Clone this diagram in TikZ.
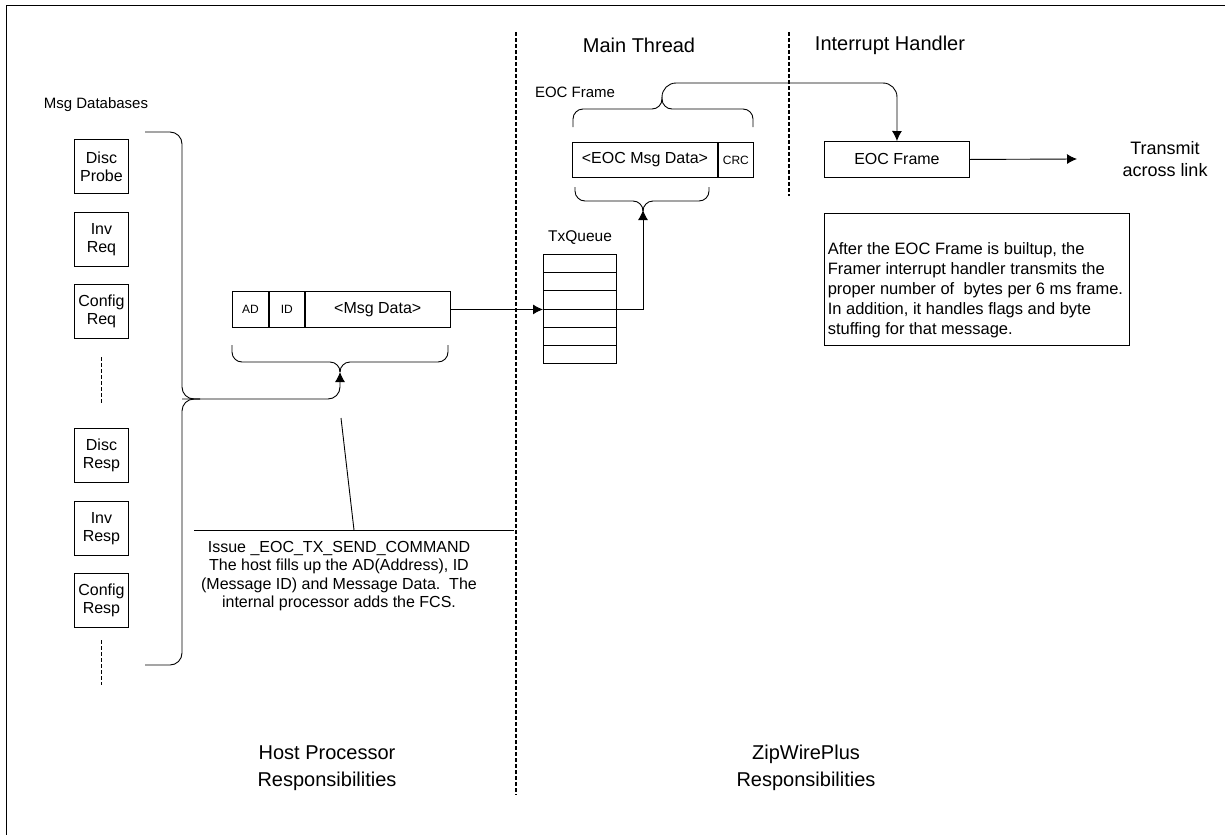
\documentclass[tikz,border=0pt]{standalone}
\usepackage{fontspec}
\setmainfont{Liberation Sans}
\usetikzlibrary{arrows.meta}

\tikzset{
  flow/.style={-{Latex[length=10pt,width=10pt]}},
  brace/.style={rounded corners=10pt},
  divider/.style={dash pattern=on 4pt off 2pt, line width=1.1pt},
  head/.style={font=\fontsize{20}{27}\selectfont, align=center},
  body/.style={font=\fontsize{16}{18.5}\selectfont, align=center},
  dbbox/.style={draw, minimum width=54pt, minimum height=54pt, inner sep=0pt,
    align=center, font=\fontsize{16}{18}\selectfont},
  cell/.style={draw, minimum height=36pt, inner sep=0pt, font=\fontsize{16}{18}\selectfont},
  small/.style={font=\fontsize{12}{14}\selectfont},
  qcell/.style={draw, minimum width=73pt, minimum height=18.2pt, inner sep=0pt},
}

\begin{document}
\begin{tikzpicture}[x=1pt, y=-1pt, line width=0.9pt]
    \useasboundingbox (0,0) rectangle (1225,835);
    \draw (1225,5) -- (6,5) -- (6,835);

    % lanes
    \draw[divider] (516,32) -- (516,795);
    \draw[divider] (789,32) -- (789,196);
    \node[head] (mainth) at (639,45) {Main Thread};
    \node[head] (irqh) at (890,45) {Interrupt Handler};
    \node[head] (hostresp) at (327,768) {Host Processor\\Responsibilities};
    \node[head] (zwpresp) at (806,768) {ZipWirePlus\\Responsibilities};

    % message databases
    \node[font=\fontsize{15}{18}\selectfont] (msgdb) at (96,105) {Msg Databases};
    \node[dbbox, anchor=north west] (discprobe) at (74,139) {Disc\\Probe};
    \node[dbbox, anchor=north west] (invreq) at (74,212) {Inv\\Req};
    \node[dbbox, anchor=north west] (cfgreq) at (74,284) {Config\\Req};
    \draw[divider, line width=0.9pt] (101,357) -- (101,404);
    \node[dbbox, anchor=north west] (discresp) at (74,428) {Disc\\Resp};
    \node[dbbox, anchor=north west] (invresp) at (74,501) {Inv\\Resp};
    \node[dbbox, anchor=north west] (cfgresp) at (74,573) {Config\\Resp};
    \draw[divider, line width=0.9pt] (101,640) -- (101,685);

    % brace over all databases
    \coordinate (dbtip) at (182,399);
    \draw[rounded corners=12pt] (145,132) -- (182,132) -- (dbtip) -- (200,399);
    \draw[rounded corners=12pt] (200,399) -- (dbtip) -- (182,665) -- (145,665);

    % host message
    \node[cell, small, minimum width=36pt, anchor=north west] (ad) at (232,291) {AD};
    \node[cell, small, minimum width=35pt, anchor=west] (id) at (ad.east) {ID};
    \node[cell, minimum width=145pt, anchor=west] (msgdata) at (id.east) {<Msg Data>};
    \coordinate (msgtip) at (340,372);
    \draw[brace] (232,345) -- (232,362) -- (340,362) -- (msgtip);
    \draw[brace] (448,345) -- (448,362) -- (340,362) -- (msgtip);
    \draw[flow, rounded corners=12pt] (dbtip) -| (msgtip);

    % command callout
    \coordinate (callout) at (341,418);
    \coordinate (calloutfoot) at (354,530);
    \draw (callout) -- (calloutfoot);
    \draw (194,530) -- (514,530);
    \node[body] (issue) at (339,576) {Issue \_EOC\_TX\_SEND\_COMMAND\\
      The host fills up the AD(Address), ID\\
      (Message ID) and Message Data.\ \ The\\
      internal processor adds the FCS.};

    % transmit queue
    \node[font=\fontsize{15.5}{18}\selectfont] (txq) at (580,238) {TxQueue};
    \foreach \i in {0,...,5}
        \node[qcell, anchor=north west] (q\i) at (543,{254+18.2*\i}) {};
    \draw[flow] (msgdata.east) -- (msgdata.east -| q0.west);

    % EOC frame build
    \node[cell, minimum width=145pt, minimum height=35pt, anchor=north west] (eocdata) at (572,142) {<EOC Msg Data>};
    \node[cell, small, minimum width=35pt, minimum height=35pt, anchor=west] (crc) at (eocdata.east) {CRC};
    \coordinate (eoctip) at (643,210);
    \draw[brace] (575,187) -- (575,201) -- (643,201) -- (eoctip);
    \draw[brace] (709,187) -- (709,201) -- (643,201) -- (eoctip);
    \draw[flow] (msgdata.east -| q0.east) -| (eoctip);

    \node[font=\fontsize{15}{18}\selectfont] (eoclbl) at (575,92) {EOC Frame};
    \coordinate (frametip) at (662,97);
    \draw[brace] (573,127) -- (573,109) -- (662,109) -- (frametip);
    \draw[brace] (753,127) -- (753,109) -- (662,109) -- (frametip);

    % interrupt handler
    \node[cell, minimum width=145pt, anchor=north west] (frame) at (824,141) {EOC Frame};
    \coordinate (bend) at (897,83);
    \draw[flow, rounded corners=14pt] (frametip) |- (bend) -- (frame.north);
    \coordinate (linkend) at (1077,159);
    \draw[flow] (frame.east) -- (linkend);
    \node[font=\fontsize{18}{22}\selectfont, align=center] (link) at (1165,159) {Transmit\\across link};

    \node[draw, minimum width=305pt, minimum height=132pt, anchor=north west] (note) at (824,213) {};
    \node[font=\fontsize{16.5}{20}\selectfont, align=left, anchor=west] (notetext) at (824,290)
      {After the EOC Frame is builtup, the\\
       Framer interrupt handler transmits the\\
       proper number of\ \ bytes per 6 ms frame.\\
       In addition, it handles flags and byte\\
       stuffing for that message.};
\end{tikzpicture}
\end{document}
